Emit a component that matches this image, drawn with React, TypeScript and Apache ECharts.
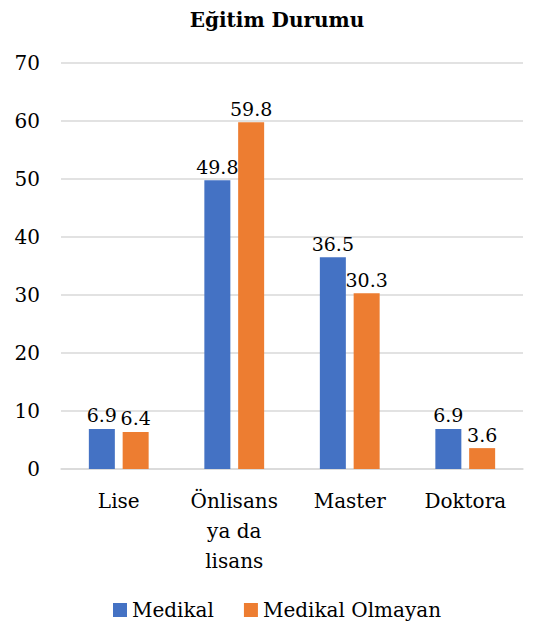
import React, { useEffect, useRef } from "react";
import * as echarts from "echarts";

const categories = ["Lise", "Önlisans\nya da\nlisans", "Master", "Doktora"];
const medikal = [6.9, 49.8, 36.5, 6.9];
const medikalOlmayan = [6.4, 59.8, 30.3, 3.6];
const seriesNames = ["Medikal", "Medikal Olmayan"];

const FONT = "DejaVu Serif";

export default function App() {
  const ref = useRef<HTMLDivElement>(null);
  useEffect(() => {
    document.body.style.margin = "0";
    const chart = echarts.init(ref.current!, null, { renderer: "svg" });
    const labelStyle = {
      show: true,
      position: "top" as const,
      fontFamily: FONT,
      fontSize: 19,
      color: "#000",
      distance: 4,
    };
    chart.setOption({
      animation: false,
      textStyle: { fontFamily: FONT },
      title: {
        text: "Eğitim Durumu",
        left: "center",
        top: 5,
        textStyle: { fontFamily: FONT, fontSize: 20, fontWeight: "bold", color: "#000" },
      },
      legend: {
        bottom: 12,
        left: "center",
        itemWidth: 14,
        itemHeight: 14,
        itemGap: 30,
        icon: "rect",
        textStyle: { fontFamily: FONT, fontSize: 20, color: "#000" },
        data: seriesNames,
      },
      grid: { left: 61, right: 31, top: 63, bottom: 168, containLabel: false },
      xAxis: {
        type: "category",
        data: categories,
        axisLine: { show: true, lineStyle: { color: "#d9d9d9", width: 1.5 } },
        axisTick: { show: false },
        axisLabel: {
          fontFamily: FONT,
          fontSize: 20,
          color: "#000",
          margin: 17,
          lineHeight: 30,
          interval: 0,
        },
      },
      yAxis: {
        type: "value",
        min: 0,
        max: 70,
        interval: 10,
        axisLine: { show: false },
        axisTick: { show: false },
        splitLine: { lineStyle: { color: "#d9d9d9", width: 1.5 } },
        axisLabel: { fontFamily: FONT, fontSize: 20, color: "#000", margin: 21 },
      },
      series: [
        {
          name: seriesNames[0],
          type: "bar",
          data: medikal,
          barWidth: 26,
          barGap: "30%",
          itemStyle: { color: "#4472C4" },
          label: labelStyle,
        },
        {
          name: seriesNames[1],
          type: "bar",
          data: medikalOlmayan,
          barWidth: 26,
          itemStyle: { color: "#ED7D31" },
          label: labelStyle,
        },
      ],
    });
    return () => chart.dispose();
  }, []);
  return <div ref={ref} style={{ width: 554, height: 637 }} />;
}
